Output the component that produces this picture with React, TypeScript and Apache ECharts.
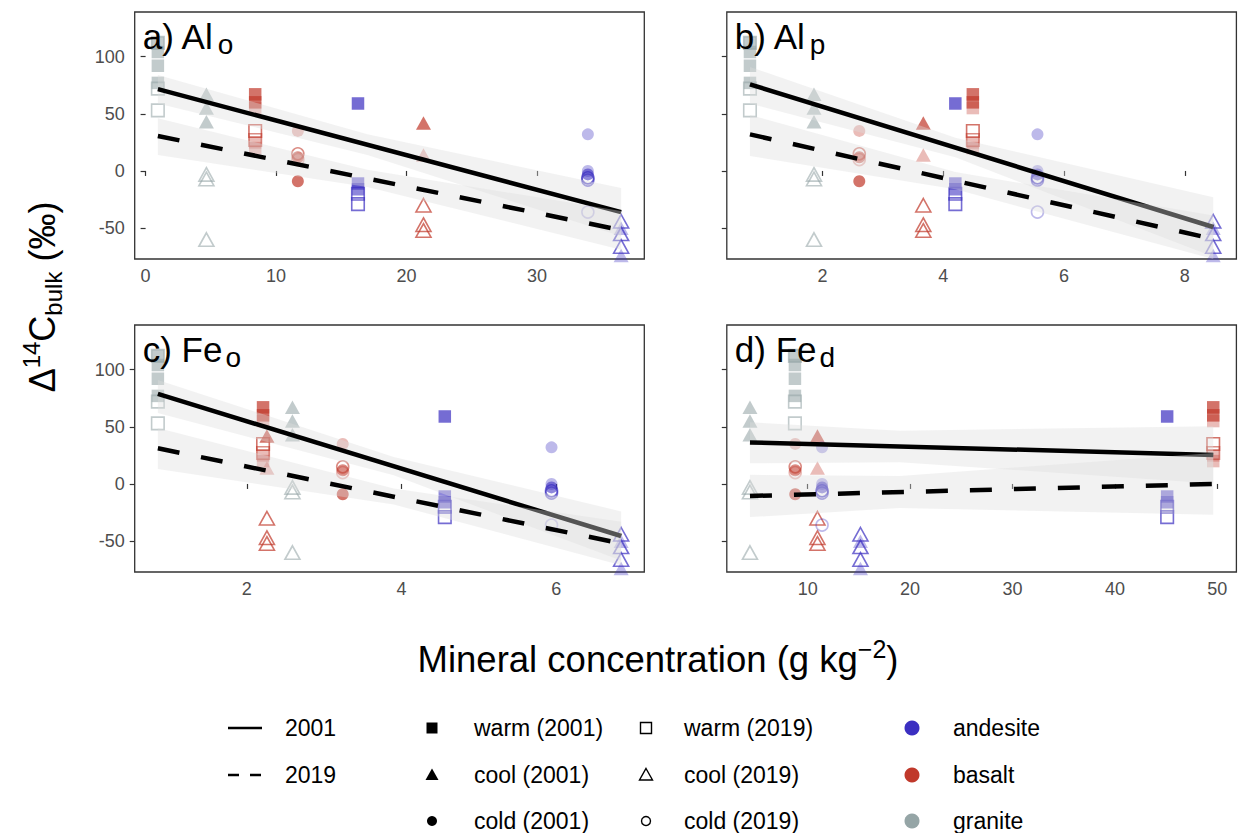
import React, { useEffect, useRef } from "react";
import * as echarts from "echarts";

const FONT = '"Liberation Sans", Arial, Helvetica, sans-serif';

// ---- sites (parent material x climate) ----
const SITE_MATERIAL = ["granite", "granite", "basalt", "basalt", "basalt", "andesite", "andesite", "andesite"];
const SITE_CLIMATE = ["warm", "cool", "warm", "cool", "cold", "warm", "cool", "cold"];

// mineral concentration of each site, per panel
const X_ALO = [0.94, 4.66, 8.4, 21.3, 11.67, 16.28, 36.45, 33.9];
const X_ALP = [0.8, 1.86, 4.49, 3.67, 2.61, 4.2, 8.47, 5.56];
const X_FEO = [0.85, 2.59, 2.21, 2.26, 3.24, 4.56, 6.84, 5.94];
const X_FED = [8.75, 4.36, 49.6, 10.95, 8.78, 45.1, 15.15, 11.4];

// Δ14C bulk values per site: [value, depth level (1 shallow .. 3 deep)]
const D14C_2001 = [
  [[112, 2], [104, 2], [92, 2], [77, 2]],
  [[67, 2], [55, 2], [43, 2]],
  [[67, 1], [60, 1], [55, 3], [25, 3], [20, 3]],
  [[42, 1], [14, 3]],
  [[35, 3], [12, 2], [-9, 1]],
  [[59, 1], [-11, 2], [-16, 2]],
  [[-50, 3], [-74, 3]],
  [[32, 3], [0, 3], [-3, 2]],
];
const D14C_2019 = [
  [[112, 2], [72, 2], [53, 2]],
  [[-3, 2], [-7, 2], [-60, 2]],
  [[35, 1], [27, 2]],
  [[-30, 1], [-47, 1], [-52, 1]],
  [[15, 2], [10, 3]],
  [[-20, 1], [-29, 1]],
  [[-44, 1], [-55, 1], [-66, 1]],
  [[-6, 1], [-8, 2], [-36, 3]],
];

const PANEL_TITLES = ["a) Al", "b) Al", "c) Fe", "d) Fe"];
const PANEL_SUBS = ["o", "p", "o", "d"];
const X_TICKS = [[0, 10, 20, 30], [2, 4, 6, 8], [2, 4, 6], [10, 20, 30, 40, 50]];
const Y_TICKS = [-50, 0, 50, 100];
const Y_LIMITS = [-77, 139];

// fitted lines (x ends, y ends) per panel
const FIT_X = [[0.94, 36.45], [0.8, 8.47], [0.85, 6.84], [4.36, 49.6]];
const FIT_2001 = [[71.5, -36], [75.7, -49], [78.7, -45.5], [36.3, 25.4]];
const FIT_2019 = [[30.6, -51.7], [32, -59.5], [31.2, -52], [-10.5, 0]];

// confidence bands: [lower, upper] at left end, middle, right end
const BAND_X = [[0.94, 17, 36.45], [0.8, 4.2, 8.47], [0.85, 3.9, 6.84], [4.36, 19, 49.6]];
const BAND_2001 = [
  [[59, 84], [14, 32], [-57, -15]],
  [[59, 91], [12, 29], [-75, -23]],
  [[62, 91], [7.5, 23.5], [-67, -24]],
  [[18, 54], [19, 46.5], [0.5, 50.5]],
];
const BAND_2019 = [
  [[14, 46], [-14, 1], [-69, -35]],
  [[13, 49], [-16, -1], [-77, -39]],
  [[13, 49], [-18, -4], [-71, -33]],
  [[-29, 8], [-21, 7], [-27, 27]],
];

// legend labels
const LINE_LEGEND = ["2001", "2019"];
const CLIMATES = ["warm", "cool", "cold"];
const YEARS = ["2001", "2019"];
const MATERIALS = ["andesite", "basalt", "granite"];

// ---- styling ----
const MATERIAL_RGB: Record<string, number[]> = {
  andesite: [59, 47, 193],
  basalt: [192, 57, 43],
  granite: [149, 165, 166],
};
const DEPTH_ALPHA = [1, 0.88, 0.72, 0.42];
const CLIMATE_SYMBOL: Record<string, string> = { warm: "rect", cool: "triangle", cold: "circle" };
const SYMBOL_SIZE: Record<string, any> = { rect: 12.5, triangle: [15, 13.5], circle: 12 };

const PANEL_W = 509.6;
const PANEL_H = 247;
const PANEL_POS = [
  { left: 134.7, top: 12 },
  { left: 726.8, top: 12 },
  { left: 134.7, top: 325 },
  { left: 726.8, top: 325 },
];
const BAND_FILL = "rgba(221,221,221,0.38)";

function rgba(mat: string, a: number) {
  const c = MATERIAL_RGB[mat];
  return `rgba(${c[0]},${c[1]},${c[2]},${a})`;
}

function buildOption() {
  const xs = [X_ALO, X_ALP, X_FEO, X_FED];
  const grid: any[] = [];
  const xAxis: any[] = [];
  const yAxis: any[] = [];
  const series: any[] = [];
  const graphic: any[] = [];

  xs.forEach((xv, p) => {
    const lo = Math.min(...xv);
    const hi = Math.max(...xv);
    const pad = (hi - lo) * 0.05;
    grid.push({
      left: PANEL_POS[p].left,
      top: PANEL_POS[p].top,
      width: PANEL_W,
      height: PANEL_H,
      show: true,
      borderColor: "#333333",
      borderWidth: 1.3,
      backgroundColor: "transparent",
    });
    xAxis.push({
      type: "value",
      gridIndex: p,
      min: lo - pad,
      max: hi + pad,
      axisLine: { show: false },
      axisTick: { show: true, length: 5, customValues: X_TICKS[p], lineStyle: { color: "#333333", width: 1.2 } },
      axisLabel: { show: true, customValues: X_TICKS[p], fontSize: 18, color: "#4d4d4d", margin: 8, fontFamily: FONT },
      splitLine: { show: false },
    });
    yAxis.push({
      type: "value",
      gridIndex: p,
      min: Y_LIMITS[0],
      max: Y_LIMITS[1],
      axisLine: { show: false },
      axisTick: { show: true, length: 5, customValues: Y_TICKS, lineStyle: { color: "#333333", width: 1.2 } },
      axisLabel: {
        show: p % 2 === 0,
        customValues: Y_TICKS,
        fontSize: 18,
        color: "#4d4d4d",
        margin: 10,
        fontFamily: FONT,
      },
      splitLine: { show: false },
    });

    // points
    const data: any[] = [];
    [D14C_2001, D14C_2019].forEach((vals, yi) => {
      vals.forEach((siteVals, s) => {
        const sym = CLIMATE_SYMBOL[SITE_CLIMATE[s]];
        siteVals.forEach(([v, d]) => {
          const col = rgba(SITE_MATERIAL[s], DEPTH_ALPHA[d]);
          data.push({
            value: [xv[s], v],
            symbol: sym,
            symbolSize: SYMBOL_SIZE[sym],
            itemStyle:
              yi === 0
                ? { color: col, borderWidth: 0 }
                : { color: "rgba(255,255,255,0)", borderColor: col, borderWidth: 1.6 },
          });
        });
      });
    });
    series.push({
      type: "scatter",
      xAxisIndex: p,
      yAxisIndex: p,
      data,
      z: 2,
      silent: true,
    });

    const bandSeries = (band: number[][], z: number) => {
      const pts = BAND_X[p].map((x, i) => [x, band[i][0], band[i][1]]);
      return {
        type: "custom",
        xAxisIndex: p,
        yAxisIndex: p,
        z,
        silent: true,
        clip: true,
        data: pts,
        encode: { x: 0, y: [1, 2] },
        renderItem: (params: any, api: any) => {
          if (params.dataIndex !== 0) return null;
          const upper = pts.map((q) => api.coord([q[0], q[2]]));
          const lower = pts
            .slice()
            .reverse()
            .map((q) => api.coord([q[0], q[1]]));
          return {
            type: "polygon",
            shape: { points: upper.concat(lower) },
            style: { fill: BAND_FILL },
          };
        },
      };
    };
    const lineSeries = (fit: number[], dashed: boolean, z: number) => ({
      type: "line",
      xAxisIndex: p,
      yAxisIndex: p,
      z,
      silent: true,
      showSymbol: false,
      symbol: "none",
      data: [
        [FIT_X[p][0], fit[0]],
        [FIT_X[p][1], fit[1]],
      ],
      lineStyle: { color: "#000000", width: 4.5, type: dashed ? [22, 22] : "solid", cap: "butt" },
    });
    series.push(bandSeries(BAND_2001[p], 3));
    series.push(lineSeries(FIT_2001[p], false, 4));
    series.push(bandSeries(BAND_2019[p], 5));
    series.push(lineSeries(FIT_2019[p], true, 6));

    // panel label
    graphic.push({
      type: "text",
      z: 100,
      x: PANEL_POS[p].left + 8,
      y: PANEL_POS[p].top + 2,
      style: {
        text: `{m|${PANEL_TITLES[p]}}{s|${PANEL_SUBS[p]}}`,
        align: "left",
        verticalAlign: "top",
        fill: "#000",
        rich: {
          m: { fontSize: 35, lineHeight: 44, fontFamily: FONT, fill: "#000" },
          s: {
            fontSize: 28,
            lineHeight: 28,
            verticalAlign: "bottom",
            padding: [0, 0, 0, 3],
            fontFamily: FONT,
            fill: "#000",
          },
        },
      },
    });
  });

  // axis titles
  graphic.push({
    type: "text",
    z: 100,
    x: 42,
    y: 297,
    rotation: Math.PI / 2,
    style: {
      text: "{m|Δ}{sup|14}{m|C}{sub|bulk}{m| (‰)}",
      align: "center",
      verticalAlign: "middle",
      fill: "#000",
      rich: {
        m: { fontSize: 36, lineHeight: 46, fontFamily: FONT, fill: "#000" },
        sup: { fontSize: 24, lineHeight: 24, verticalAlign: "top", fontFamily: FONT, fill: "#000" },
        sub: { fontSize: 24, lineHeight: 24, verticalAlign: "bottom", fontFamily: FONT, fill: "#000" },
      },
    },
  });
  graphic.push({
    type: "text",
    z: 100,
    x: 658,
    y: 659,
    style: {
      text: "{m|Mineral concentration (g kg}{sup|−2}{m|)}",
      align: "center",
      verticalAlign: "middle",
      fill: "#000",
      rich: {
        m: { fontSize: 36.5, lineHeight: 46, fontFamily: FONT, fill: "#000" },
        sup: { fontSize: 25, lineHeight: 25, verticalAlign: "top", fontFamily: FONT, fill: "#000" },
      },
    },
  });

  // legend
  const rowY = [728, 775, 821];
  const legendText = (x: number, y: number, t: string) => ({
    type: "text",
    x,
    y,
    style: { text: t, fontSize: 23, fontFamily: FONT, fill: "#000", align: "left", verticalAlign: "middle" },
  });
  LINE_LEGEND.forEach((t, i) => {
    graphic.push({
      type: "line",
      shape: { x1: 228, y1: rowY[i], x2: 262, y2: rowY[i] },
      style: { stroke: "#000", lineWidth: 2.4, lineDash: i === 0 ? null : [11, 11] },
    });
    graphic.push(legendText(285, rowY[i], t));
  });
  const marker = (cx: number, cy: number, shape: string, filled: boolean) => {
    const st = filled
      ? { fill: "#000", stroke: null }
      : { fill: "rgba(255,255,255,0)", stroke: "#000", lineWidth: 1.4 };
    if (shape === "warm") return { type: "rect", shape: { x: cx - 5.5, y: cy - 5.5, width: 11, height: 11 }, style: st };
    if (shape === "cool")
      return {
        type: "polygon",
        shape: { points: [[cx, cy - 6.5], [cx + 6.5, cy + 5], [cx - 6.5, cy + 5]] },
        style: st,
      };
    return { type: "circle", shape: { cx, cy, r: filled ? 5 : 4.5 }, style: st };
  };
  YEARS.forEach((yr, yi) => {
    const mx = yi === 0 ? 432 : 646;
    const tx = yi === 0 ? 474 : 684;
    CLIMATES.forEach((c, ci) => {
      graphic.push(marker(mx, rowY[ci], c, yi === 0));
      graphic.push(legendText(tx, rowY[ci], `${c} (${yr})`));
    });
  });
  MATERIALS.forEach((m, i) => {
    graphic.push({ type: "circle", shape: { cx: 912, cy: rowY[i], r: 7.5 }, style: { fill: rgba(m, 1) } });
    graphic.push(legendText(953, rowY[i], m));
  });

  return {
    animation: false,
    backgroundColor: "#ffffff",
    textStyle: { fontFamily: FONT },
    grid,
    xAxis,
    yAxis,
    series,
    graphic,
  };
}

export default function App() {
  const ref = useRef<HTMLDivElement>(null);
  useEffect(() => {
    if (!ref.current) return;
    const chart = echarts.init(ref.current, null, { renderer: "svg" });
    chart.setOption(buildOption() as any);
    return () => chart.dispose();
  }, []);
  return (
    <div
      ref={ref}
      style={{ position: "fixed", left: 0, top: 0, width: 1238, height: 833, background: "#fff" }}
    />
  );
}
